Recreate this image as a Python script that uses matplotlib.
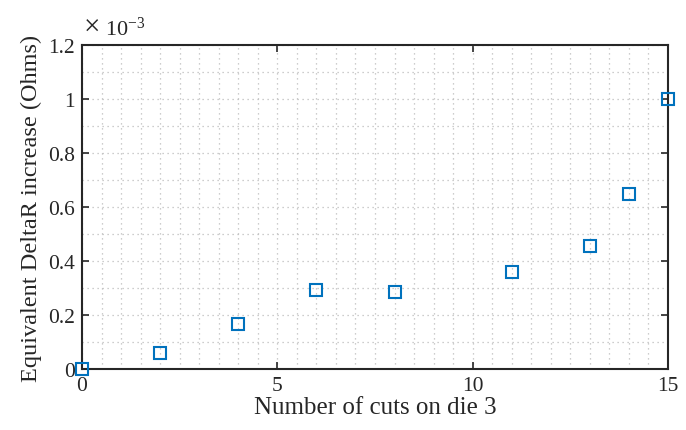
import matplotlib
matplotlib.use('Agg')
import matplotlib.pyplot as plt
from matplotlib.ticker import MultipleLocator, FuncFormatter
import numpy as np

# number of cuts and the measured increase (x 1e-3 Ohms)
cuts = [0, 2, 4, 6, 8, 11, 13, 14, 15]
deltaR = [0.0, 0.060, 0.165, 0.291, 0.285, 0.360, 0.454, 0.647, 1.0]

xTicks = [0, 5, 10, 15]
yTicks = [0, 0.2, 0.4, 0.6, 0.8, 1.0, 1.2]

plt.rcParams['font.family'] = ['Liberation Serif', 'DejaVu Serif']
plt.rcParams['mathtext.fontset'] = 'custom'
plt.rcParams['mathtext.rm'] = 'Liberation Serif'
plt.rcParams['mathtext.it'] = 'Liberation Serif'

fig = plt.figure(figsize=(6.86, 4.31), dpi=100)
ax = fig.add_axes([82/686, 61/431, (668-82)/686, (370-46)/431])

ax.plot(cuts, deltaR, linestyle='none', marker='s', markersize=8,
        markerfacecolor='none', markeredgecolor='#0072BD', markeredgewidth=1.5,
        clip_on=False, zorder=5)

ax.set_xlim(0, 15)
ax.set_ylim(0, 1.2)
ax.set_xticks(xTicks)
ax.set_yticks(yTicks)
ax.yaxis.set_major_formatter(FuncFormatter(lambda v, p: '{:g}'.format(round(v, 2))))
ax.xaxis.set_minor_locator(MultipleLocator(0.5))
ax.yaxis.set_minor_locator(MultipleLocator(0.1))

ax.tick_params(which='major', direction='in', length=5, width=1.2, top=True, right=True,
               labelsize=15.5, colors='#262626', pad=5)
ax.tick_params(which='minor', length=0, top=True, right=True)
ax.grid(which='both', linestyle=(0, (1, 3)), color='#bdbdbd', linewidth=0.9)
ax.set_axisbelow(True)

for s in ax.spines.values():
    s.set_linewidth(1.5)
    s.set_color('#262626')

ax.set_xlabel('Number of cuts on die 3', fontsize=18, color='#262626', labelpad=1)
ax.set_ylabel('Equivalent DeltaR increase (Ohms)', fontsize=17.5, color='#262626', labelpad=4)

# exponent label above the y axis, MATLAB style
ax.text(0.003, 1.012, '\u00d7', transform=ax.transAxes, fontsize=21,
        color='#262626', ha='left', va='bottom')
ax.text(0.04, 1.015, '10$^{\\mathregular{-3}}$', transform=ax.transAxes, fontsize=16,
        color='#262626', ha='left', va='bottom')

fig.savefig('out.png', dpi=100)
